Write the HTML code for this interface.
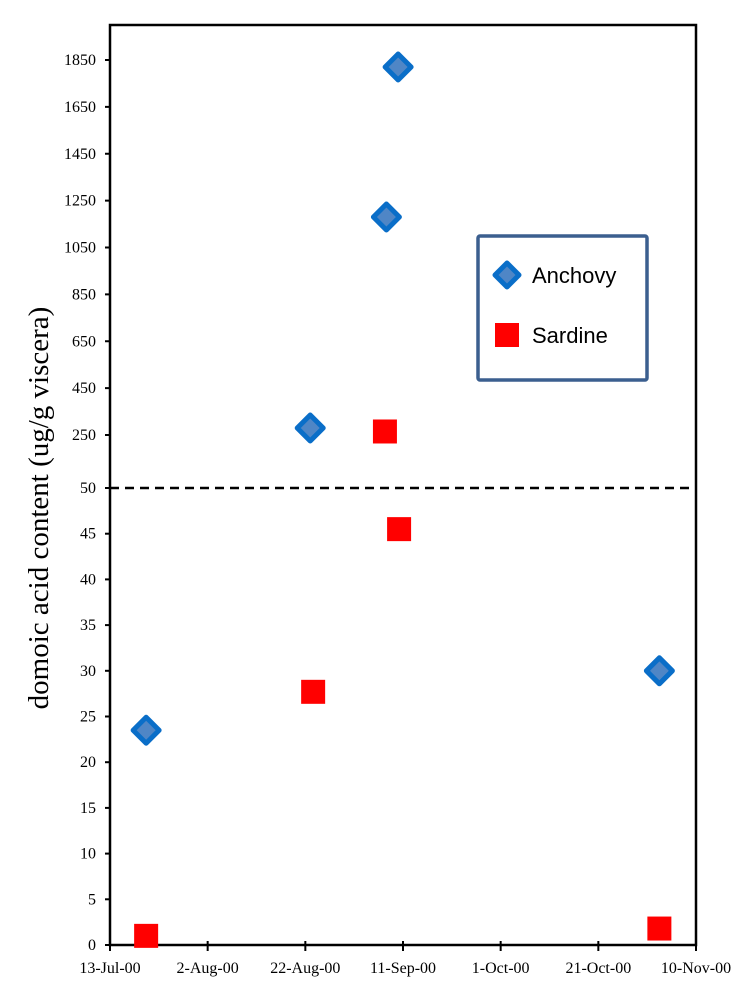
<!DOCTYPE html>
<html><head><meta charset="utf-8"><style>
body{margin:0;background:#fff;}
svg{display:block;font-family:"Liberation Serif",serif;}
</style></head><body>
<svg width="753" height="1000">
<g id="g"></g>
</svg>
<script>
const xTickLabels=["13-Jul-00","2-Aug-00","22-Aug-00","11-Sep-00","1-Oct-00","21-Oct-00","10-Nov-00"];
const lowTicks=[0,5,10,15,20,25,30,35,40,45,50];
const highTicks=[250,450,650,850,1050,1250,1450,1650,1850];
const anchovyDays=[7.4,41,56.6,59,112.5];
const anchovyVals=[23.5,280,1180,1820,30];
const sardineDays=[7.4,41.6,56.3,59.2,112.5];
const sardineVals=[1,27.7,265,45.5,1.8];

const NS="http://www.w3.org/2000/svg";
const g=document.getElementById('g');
const L=110,R=696,T=25,B=945,BR=488;
function xs(d){return L+(R-L)*d/120;}
function ys(v){return v<=50? B-(B-BR)*v/50 : 435-(v-250)*(375/1600);}
function mk(t,a,p){const e=document.createElementNS(NS,t);for(const k in a)e.setAttribute(k,a[k]);(p||g).appendChild(e);return e;}

let e=mk('rect',{x:L,y:T,width:R-L,height:B-T,fill:'none',stroke:'#000','stroke-width':2.5});

e=mk('line',{x1:L,y1:BR,x2:R,y2:BR,stroke:'#000','stroke-width':2.5,'stroke-dasharray':'9,6'});


lowTicks.concat(highTicks).forEach(v=>{
  const y=ys(v);
  let t=mk('line',{x1:L-5,y1:y,x2:L,y2:y,stroke:'#000','stroke-width':2});
  
  t=mk('text',{x:L-14,y:y+5,'text-anchor':'end','font-size':16});
  t.textContent=v;
  
});
xTickLabels.forEach((s,i)=>{
  const x=xs(i*20);
  let t=mk('line',{x1:x,y1:B-4,x2:x,y2:B+6,stroke:'#000','stroke-width':2});
  
  t=mk('text',{x:x,y:B+28,'text-anchor':'middle','font-size':16});
  t.textContent=s;
  
});
e=mk('text',{x:0,y:0,transform:'translate(48,508) rotate(-90)','text-anchor':'middle','font-size':29});
e.textContent='domoic acid content (ug/g viscera)';


function diamond(cx,cy,r){return `${cx},${cy-r} ${cx+r},${cy} ${cx},${cy+r} ${cx-r},${cy}`;}
sardineDays.forEach((d,i)=>{
  const x=xs(d),y=ys(sardineVals[i]);
  const p=mk('rect',{x:x-12,y:y-12,width:24,height:24,fill:'#ff0000'});
  
});
anchovyDays.forEach((d,i)=>{
  const x=xs(d),y=ys(anchovyVals[i]);
  const p=mk('polygon',{points:diamond(x,y,13),fill:'#4f86c6',stroke:'#0a6ec8','stroke-width':5,'stroke-linejoin':'round'});
  
});

const lg=mk('g',{});

mk('rect',{x:478,y:236,width:169,height:144,fill:'#fff',stroke:'#3b5f8f','stroke-width':3.5,rx:2},lg);
mk('polygon',{points:diamond(507,275,12),fill:'#4f86c6',stroke:'#0a6ec8','stroke-width':5,'stroke-linejoin':'round'},lg);
mk('rect',{x:495,y:323,width:24,height:24,fill:'#ff0000'},lg);
e=mk('text',{x:532,y:283,'font-size':22,'font-family':'Liberation Sans, sans-serif'},lg);
e.textContent='Anchovy';

e=mk('text',{x:532,y:343,'font-size':22,'font-family':'Liberation Sans, sans-serif'},lg);
e.textContent='Sardine';

</script>
</body></html>
